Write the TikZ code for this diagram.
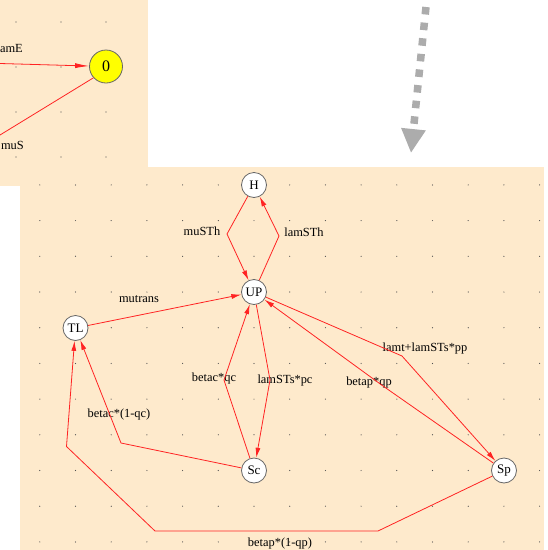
\documentclass[tikz,border=0pt]{standalone}
\usepackage{fontspec}
\setmainfont{Liberation Serif}
\usetikzlibrary{arrows.meta}
\definecolor{panelcolor}{RGB}{254,234,204}
\definecolor{dotcolor}{RGB}{80,80,80}
\definecolor{edgecolor}{RGB}{255,35,35}
\definecolor{hintcolor}{RGB}{172,172,172}
\definecolor{rootcolor}{RGB}{255,255,0}

\begin{document}
\begin{tikzpicture}[
    x=1pt, y=-1pt,
    every node/.style={font=\fontsize{12.4}{14}\selectfont},
    state/.style={circle, draw=black!60, fill=white, line width=0.8pt, minimum size=25pt, inner sep=0pt, font=\fontsize{13}{15}\selectfont},
    root/.style={circle, draw=black!60, fill=rootcolor, line width=0.8pt, minimum size=33pt, inner sep=0pt, font=\fontsize{16}{18}\selectfont},
    rate/.style={inner sep=1pt},
    edge/.style={draw=edgecolor, line width=0.8pt, -{Latex[length=10pt,width=5pt]}},
    plain/.style={draw=edgecolor, line width=0.8pt},
    griddot/.style={fill=dotcolor},
    hint/.style={draw=hintcolor, line width=7.5pt, dash pattern=on 7.5pt off 8.2pt, -{Triangle[length=24pt,width=23pt]}}
]

% Canvas and the two panels
\fill[white] (0,0) rectangle (548,550);
\useasboundingbox (0,0) rectangle (548,550);
\fill[panelcolor] (0,0) rectangle (148,186);
\fill[panelcolor] (20,167) rectangle (544,550);

% Grid dots
\foreach \gx in {16,61,106}
  \foreach \gy in {22,67,112,157}
    \fill[griddot] (\gx,\gy) circle (0.6pt);
\foreach \i in {-6,...,8}
  \foreach \j in {-3,...,7}
    \fill[griddot] ({254+35.7*\i},{292+35.7*\j}) circle (0.6pt);

% Small panel - zoomed detail around the root state
\node[root] (zero) at (106,66.5) {0};
\coordinate (lamEin) at (0,63.5);
\coordinate (muSout) at (0,135);
\node[rate, anchor=east] (lblLamE) at (24,48) {amE};
\node[rate, anchor=east] (lblMuS) at (25,145) {muS};
\draw[draw=edgecolor, line width=0.8pt, -{Latex[length=14pt,width=5pt]}] (lamEin) -- (zero);
\draw[plain] (muSout) -- (zero.222);

% Hint arrow between the panels
\coordinate (hintStart) at (426,7);
\coordinate (hintEnd) at (411,153);
\draw[hint] (hintStart) -- (hintEnd);

% States
\node[state] (H) at (254,185) {H};
\node[state] (UP) at (254,292) {UP};
\node[state] (TL) at (75.5,328) {TL};
\node[state] (Sc) at (254,470.5) {Sc};
\node[state] (Sp) at (504,470.5) {Sp};

% Bend points of the transitions
\coordinate (bMuSTh) at (227,234);
\coordinate (bLamSTh) at (279,236);
\coordinate (bBetacQc) at (224,380);
\coordinate (bLamSTsPc) at (270,380);
\coordinate (bBetacNotQc) at (121,443);
\coordinate (bLamt) at (402,356);
\coordinate (bBetapQp) at (383,386);
\coordinate (bBetapA) at (378,531);
\coordinate (bBetapB) at (155,531);
\coordinate (bBetapC) at (66.5,446.5);

% Transition labels
\node[rate] (lblMuSTh) at (202,231) {muSTh};
\node[rate] (lblLamSTh) at (304,232) {lamSTh};
\node[rate] (lblMutrans) at (139,299) {mutrans};
\node[rate] (lblBetacQc) at (214,379) {betac*qc};
\node[rate] (lblLamSTsPc) at (285,381) {lamSTs*pc};
\node[rate] (lblBetacNotQc) at (119,415) {betac*(1-qc)};
\node[rate] (lblLamt) at (425,349) {lamt+lamSTs*pp};
\node[rate] (lblBetapQp) at (369,383) {betap*qp};
\node[rate] (lblBetapNotQp) at (280,544) {betap*(1-qp)};

% Transitions
\draw[edge] (H) -- (bMuSTh) -- (UP);
\draw[edge] (UP) -- (bLamSTh) -- (H);
\draw[edge] (TL) -- (UP);
\draw[edge] (Sc) -- (bBetacQc) -- (UP);
\draw[edge] (UP) -- (bLamSTsPc) -- (Sc);
\draw[edge] (Sc) -- (bBetacNotQc) -- (TL);
\draw[edge] (UP) -- (bLamt) -- (Sp);
\draw[edge] (Sp) -- (bBetapQp) -- (UP);
\draw[edge] (Sp) -- (bBetapA) -- (bBetapB) -- (bBetapC) -- (TL);

\end{tikzpicture}
\end{document}
